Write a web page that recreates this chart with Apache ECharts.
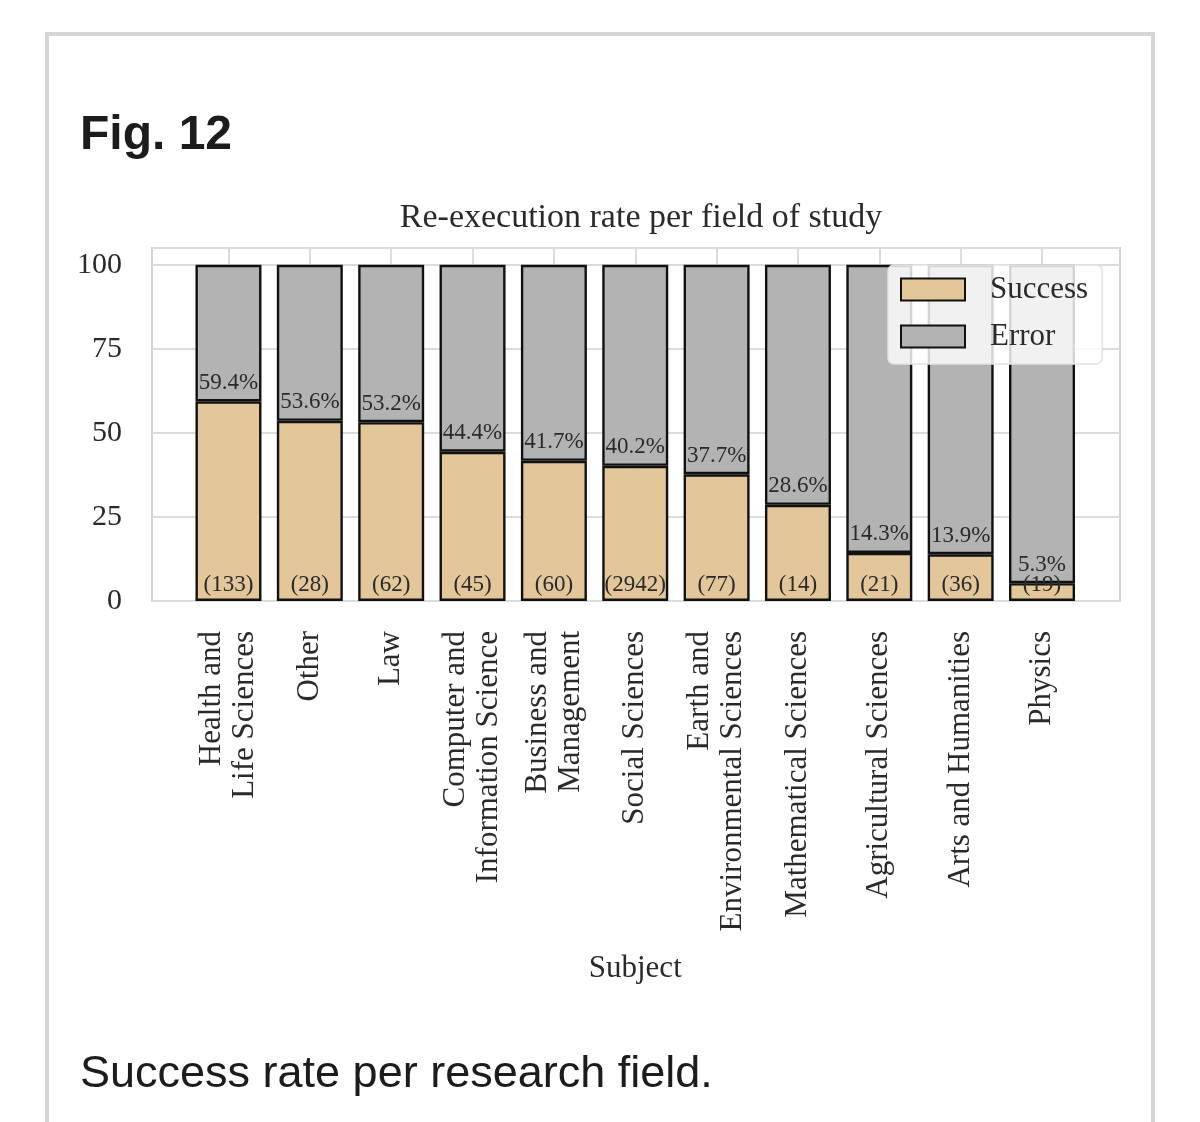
<!DOCTYPE html>
<html>
<head>
<meta charset="utf-8">
<title>Fig. 12</title>
<script src="https://cdn.jsdelivr.net/npm/echarts@6/dist/echarts.min.js"></script>
<style>
  html, body { margin: 0; padding: 0; background: #fff; }
  #chart { width: 1200px; height: 1122px; }
</style>
</head>
<body>
<div id="chart"></div>
<script>
// data
var subjects = [
  'Health and\nLife Sciences', 'Other', 'Law', 'Computer and\nInformation Science',
  'Business and\nManagement', 'Social Sciences', 'Earth and\nEnvironmental Sciences',
  'Mathematical Sciences', 'Agricultural Sciences', 'Arts and Humanities', 'Physics'
];
var successRate = [59.4, 53.6, 53.2, 44.4, 41.7, 40.2, 37.7, 28.6, 14.3, 13.9, 5.3];
var errorRate = [40.6, 46.4, 46.8, 55.6, 58.3, 59.8, 62.3, 71.4, 85.7, 86.1, 94.7];
var counts = [133, 28, 62, 45, 60, 2942, 77, 14, 21, 36, 19];
var yTicks = [0, 25, 50, 75, 100];

var serif = '"Liberation Serif", "DejaVu Serif", serif';
var sans = '"Liberation Sans", Arial, sans-serif';
var tan = '#e3c699';
var grey = '#b3b3b3';
var gridCol = '#dcdcdc';
var ink = '#2a2a2a';

var chart = echarts.init(document.getElementById('chart'));

var option = {
  backgroundColor: '#fff',
  animation: false,
  title: {
    text: 'Re-execution rate per field of study',
    left: 636, top: 196, textAlign: 'center',
    textStyle: { fontFamily: serif, fontSize: 34, fontWeight: 'normal', color: ink }
  },
  legend: {
    orient: 'vertical',
    left: 888, top: 265,
    padding: [9, 14, 12, 12],
    itemWidth: 64, itemHeight: 22, itemGap: 16,
    icon: 'rect',
    backgroundColor: 'rgba(255,255,255,0.82)',
    borderColor: '#e2e2e2', borderWidth: 1.5, borderRadius: 6,
    textStyle: { fontFamily: serif, fontSize: 31, color: ink, lineHeight: 30, padding: [0, 0, 0, 20] },
    data: ['Success', 'Error']
  },
  grid: [
    // frame + horizontal grid lines
    { left: 152, right: 80, top: 248, bottom: 521, show: true, borderColor: '#d4d4d4', borderWidth: 2, backgroundColor: 'transparent' },
    // vertical grid lines at the bar centres
    { left: 228.5, right: 158, top: 248, bottom: 521 },
    // bars
    { left: 187.8, right: 117.3, top: 248, bottom: 521 }
  ],
  xAxis: [
    { gridIndex: 0, type: 'value', show: false },
    {
      gridIndex: 1, type: 'category', boundaryGap: false, data: subjects,
      axisLine: { show: false },
      axisTick: { show: false, interval: 0 },
      axisLabel: { show: false, interval: 0 },
      splitLine: { show: true, interval: 0, lineStyle: { color: gridCol, width: 2 } }
    },
    {
      gridIndex: 2, type: 'category', data: subjects,
      axisLine: { show: false }, axisTick: { show: false },
      axisLabel: {
        rotate: 90, margin: 30, interval: 0,
        fontFamily: serif, fontSize: 31, lineHeight: 33, color: ink
      },
      name: 'Subject', nameLocation: 'middle', nameGap: 352,
      nameTextStyle: { fontFamily: serif, fontSize: 31, color: ink, verticalAlign: 'top' }
    }
  ],
  yAxis: [
    {
      gridIndex: 0, type: 'value', min: 0, max: 105, interval: 25,
      axisLine: { show: false }, axisTick: { show: false },
      axisLabel: {
        margin: 30, showMaxLabel: false, fontFamily: serif, fontSize: 30, color: ink,
        formatter: function (v) { return yTicks.indexOf(v) >= 0 ? String(v) : ''; }
      },
      splitLine: { lineStyle: { color: gridCol, width: 2 } }
    },
    { gridIndex: 1, type: 'value', min: 0, max: 105, show: false },
    { gridIndex: 2, type: 'value', min: 0, max: 105, show: false }
  ],
  series: [
    {
      name: 'Success', type: 'bar', stack: 'rate',
      xAxisIndex: 2, yAxisIndex: 2,
      barWidth: 66,
      data: successRate,
      itemStyle: { color: tan, borderColor: '#111', borderWidth: 2.4 },
      label: {
        show: true, position: 'insideBottom', distance: 5,
        fontFamily: serif, fontSize: 23, color: ink,
        formatter: function (p) { return '(' + counts[p.dataIndex] + ')'; }
      }
    },
    {
      name: 'Error', type: 'bar', stack: 'rate',
      xAxisIndex: 2, yAxisIndex: 2,
      barWidth: 66,
      data: errorRate,
      itemStyle: { color: grey, borderColor: '#111', borderWidth: 2.4 },
      label: {
        show: true, position: 'insideBottom', distance: 7,
        fontFamily: serif, fontSize: 23, color: ink,
        formatter: function (p) { return successRate[p.dataIndex] + '%'; }
      }
    }
  ],
  graphic: [
    {
      type: 'rect', z: -10, silent: true,
      shape: { x: 47, y: 34, width: 1106, height: 1120 },
      style: { fill: '#fff', stroke: '#d6d6d6', lineWidth: 4 }
    },
    {
      type: 'text', left: 80, top: 112,
      style: { text: 'Fig. 12', font: 'bold 48px ' + sans, fill: '#1c1c1c' }
    },
    {
      type: 'text', left: 80, top: 1052,
      style: { text: 'Success rate per research field.', font: '45px ' + sans, fill: '#1c1c1c' }
    }
  ]
};

chart.setOption(option);
</script>
</body>
</html>
